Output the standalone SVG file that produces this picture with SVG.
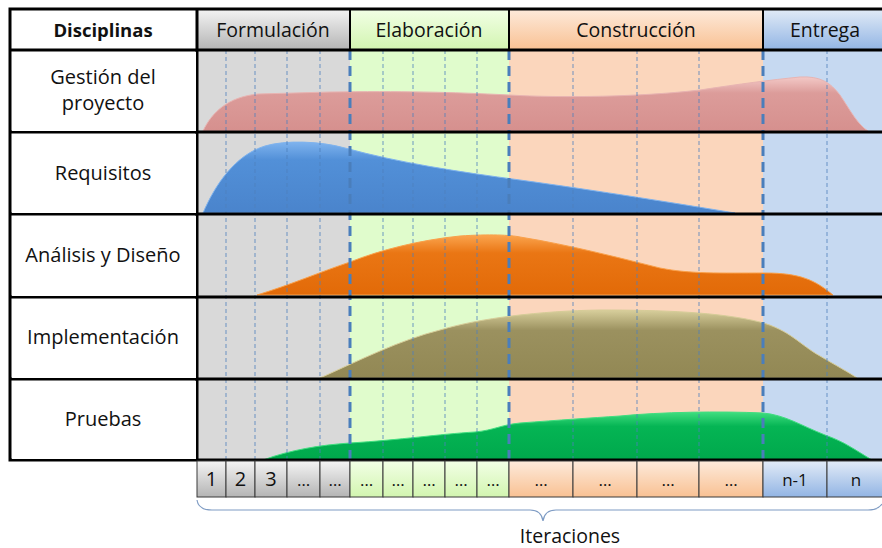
<svg xmlns="http://www.w3.org/2000/svg" width="882" height="548" viewBox="0 0 882 548">
<style>
  text{font-family:"Open Sans","Noto Sans","Liberation Sans",sans-serif;fill:#111;text-anchor:middle}
  .lbl{font-size:20px}
  .hd{font-size:19.5px}
  .it{font-size:17px}
  .itb{font-size:20px}
  .thin{stroke:#4f81bd;stroke-width:1;stroke-dasharray:4 3;opacity:0.8;fill:none}
  .thick{stroke:#4a7ebb;stroke-width:3;stroke-dasharray:10 6;fill:none}
  .rowline{stroke:#000;stroke-width:3;fill:none}
  .cell{stroke:#3a3a3a;stroke-width:1}
</style>
<defs>
  <linearGradient id="gHdGray" x1="0" y1="0" x2="0" y2="1"><stop offset="0" stop-color="#f4f4f4"/><stop offset="1" stop-color="#b4b4b4"/></linearGradient>
  <linearGradient id="gHdGreen" x1="0" y1="0" x2="0" y2="1"><stop offset="0" stop-color="#f2ffe6"/><stop offset="1" stop-color="#d2f5b0"/></linearGradient>
  <linearGradient id="gHdPeach" x1="0" y1="0" x2="0" y2="1"><stop offset="0" stop-color="#fdeadb"/><stop offset="1" stop-color="#f9c193"/></linearGradient>
  <linearGradient id="gHdBlue" x1="0" y1="0" x2="0" y2="1"><stop offset="0" stop-color="#e2ebf7"/><stop offset="1" stop-color="#92b5e4"/></linearGradient>
  <linearGradient id="gPink" x1="0" y1="0" x2="0" y2="1"><stop offset="0" stop-color="#f3c9c7"/><stop offset="0.3" stop-color="#dc9c9a"/><stop offset="1" stop-color="#d6908e"/></linearGradient>
  <linearGradient id="gBlue" x1="0" y1="0" x2="0" y2="1"><stop offset="0" stop-color="#7fb3ee"/><stop offset="0.25" stop-color="#5290d8"/><stop offset="1" stop-color="#4a84cc"/></linearGradient>
  <linearGradient id="gOrange" x1="0" y1="0" x2="0" y2="1"><stop offset="0" stop-color="#fba54f"/><stop offset="0.3" stop-color="#ea7614"/><stop offset="1" stop-color="#e26a08"/></linearGradient>
  <linearGradient id="gOlive" x1="0" y1="0" x2="0" y2="1"><stop offset="0" stop-color="#d8cf9c"/><stop offset="0.3" stop-color="#9b915f"/><stop offset="1" stop-color="#928854"/></linearGradient>
  <linearGradient id="gGreen" x1="0" y1="0" x2="0" y2="1"><stop offset="0" stop-color="#40de80"/><stop offset="0.3" stop-color="#05b554"/><stop offset="1" stop-color="#00a84c"/></linearGradient>
</defs>
<rect width="882" height="548" fill="#fff"/>

<g id="backgrounds">
  <rect x="197" y="50" width="153" height="410" fill="#d9d9d9"/>
  <rect x="350" y="50" width="159" height="410" fill="#e0fccc"/>
  <rect x="509" y="50" width="254" height="410" fill="#fbd6bc"/>
  <rect x="763" y="50" width="127" height="410" fill="#c6d9f1"/>
</g>

<g id="header">
  <g id="h-disciplinas"><rect x="10" y="9" width="187" height="41" fill="#fff"/><text x="103" y="37" style="font-size:18.5px;font-weight:bold">Disciplinas</text></g>
  <g id="h-formulacion"><rect x="197" y="9" width="153" height="41" fill="url(#gHdGray)"/><text class="hd" x="273" y="37">Formulación</text></g>
  <g id="h-elaboracion"><rect x="350" y="9" width="159" height="41" fill="url(#gHdGreen)"/><text class="hd" x="429" y="37">Elaboración</text></g>
  <g id="h-construccion"><rect x="509" y="9" width="254" height="41" fill="url(#gHdPeach)"/><text class="hd" x="636" y="37">Construcción</text></g>
  <g id="h-entrega"><rect x="763" y="9" width="127" height="41" fill="url(#gHdBlue)"/><text class="hd" x="825" y="37">Entrega</text></g>
</g>

<g id="curves">
  <path id="c-gestion" fill="url(#gPink)" stroke="#e8b4b2" stroke-width="1" d="M203,131 C212,112 228,97 258,94 L330,92 C400,91 450,92 509,95 C560,98 640,97 700,90 C740,84 770,80 800,77 C820,76 830,82 840,95 C850,110 858,125 868,131 Z"/>
  <path id="c-requisitos" fill="url(#gBlue)" stroke="#7fb3ee" stroke-width="1" d="M203,213 C215,185 235,155 265,146 C285,140 320,141 345,148 C400,163 460,172 520,180 C600,191 680,204 735,213 Z"/>
  <path id="c-analisis" fill="url(#gOrange)" stroke="#f9a04a" stroke-width="1" d="M257,295 C290,285 320,272 350,262 C380,250 420,240 460,236 C490,234 510,235 520,237 C570,245 620,258 660,268 C690,274 720,273 765,273 C800,273 815,280 833,295 Z"/>
  <path id="c-implementacion" fill="url(#gOlive)" stroke="#d6cc98" stroke-width="1" d="M320,378 C360,360 400,340 440,330 C480,318 540,311 600,310 C660,310 720,312 760,322 C790,330 800,345 820,356 C835,365 850,373 857,378 Z"/>
  <path id="c-pruebas" fill="url(#gGreen)" stroke="#40de80" stroke-width="1" d="M263,460 C290,450 320,445 350,443 C400,440 440,434 475,432 C495,430 500,425 520,423 C560,420 590,418 620,416 C660,412 720,411 763,413 C785,415 800,425 825,435 C845,442 855,450 872,460 Z"/>
</g>

<g id="gridlines">
  <path class="thin" d="M226,50V460M255,50V460M287,50V460M320,50V460M383,50V460M413,50V460M445,50V460M477,50V460M573,50V460M637,50V460M699,50V460M827,50V460"/>
  <path class="thick" d="M350,50V460M509,50V460M763,50V460"/>
</g>

<g id="table-lines">
  <rect x="10" y="9" width="880" height="451" fill="none" stroke="#000" stroke-width="3"/>
  <path class="rowline" d="M10,50H890M10,132H890M10,214H890M10,297H890M10,379H890M197,9V460"/>
  <path stroke="#000" stroke-width="2" fill="none" d="M350,9V50M509,9V50M763,9V50"/>
</g>

<g id="disciplines">
  <g id="d-gestion"><rect x="12" y="52" width="184" height="79" fill="#fff"/><text class="lbl" x="103" y="84">Gestión del</text><text class="lbl" x="103" y="110">proyecto</text></g>
  <g id="d-requisitos"><rect x="12" y="134" width="184" height="79" fill="#fff"/><text class="lbl" x="103" y="180">Requisitos</text></g>
  <g id="d-analisis"><rect x="12" y="216" width="184" height="80" fill="#fff"/><text class="lbl" x="103" y="262">Análisis y Diseño</text></g>
  <g id="d-implementacion"><rect x="12" y="299" width="184" height="79" fill="#fff"/><text class="lbl" x="103" y="344">Implementación</text></g>
  <g id="d-pruebas"><rect x="12" y="381" width="184" height="78" fill="#fff"/><text class="lbl" x="103" y="426">Pruebas</text></g>
</g>

<g id="iterations">
  <rect class="cell" x="197" y="461" width="29" height="36" fill="url(#gHdGray)"/><text class="itb" x="211.5" y="486">1</text>
  <rect class="cell" x="226" y="461" width="29" height="36" fill="url(#gHdGray)"/><text class="itb" x="240.5" y="486">2</text>
  <rect class="cell" x="255" y="461" width="32" height="36" fill="url(#gHdGray)"/><text class="itb" x="271" y="486">3</text>
  <rect class="cell" x="287" y="461" width="33" height="36" fill="url(#gHdGray)"/><text class="it" x="303.5" y="486">…</text>
  <rect class="cell" x="320" y="461" width="30" height="36" fill="url(#gHdGray)"/><text class="it" x="335" y="486">…</text>
  <rect class="cell" x="350" y="461" width="33" height="36" fill="url(#gHdGreen)"/><text class="it" x="366.5" y="486">…</text>
  <rect class="cell" x="383" y="461" width="30" height="36" fill="url(#gHdGreen)"/><text class="it" x="398" y="486">…</text>
  <rect class="cell" x="413" y="461" width="32" height="36" fill="url(#gHdGreen)"/><text class="it" x="429" y="486">…</text>
  <rect class="cell" x="445" y="461" width="32" height="36" fill="url(#gHdGreen)"/><text class="it" x="461" y="486">…</text>
  <rect class="cell" x="477" y="461" width="32" height="36" fill="url(#gHdGreen)"/><text class="it" x="493" y="486">…</text>
  <rect class="cell" x="509" y="461" width="64" height="36" fill="url(#gHdPeach)"/><text class="it" x="541" y="486">…</text>
  <rect class="cell" x="573" y="461" width="64" height="36" fill="url(#gHdPeach)"/><text class="it" x="605" y="486">…</text>
  <rect class="cell" x="637" y="461" width="62" height="36" fill="url(#gHdPeach)"/><text class="it" x="668" y="486">…</text>
  <rect class="cell" x="699" y="461" width="64" height="36" fill="url(#gHdPeach)"/><text class="it" x="731" y="486">…</text>
  <rect class="cell" x="763" y="461" width="64" height="36" fill="url(#gHdBlue)"/><text class="it" x="795" y="486">n-1</text>
  <rect class="cell" x="827" y="461" width="63" height="36" fill="url(#gHdBlue)"/><text class="it" x="856" y="486">n</text>
</g>

<g id="brace">
  <path d="M197,500 C198,507 203,510 212,510 L530,510 C538,510 542,514 543,521 C544,514 548,510 556,510 L868,510 C875,510 880,507 882,504" fill="none" stroke="#7f9cc4" stroke-width="1.2"/>
  <text x="570" y="543" style="font-size:19.5px">Iteraciones</text>
</g>
</svg>
